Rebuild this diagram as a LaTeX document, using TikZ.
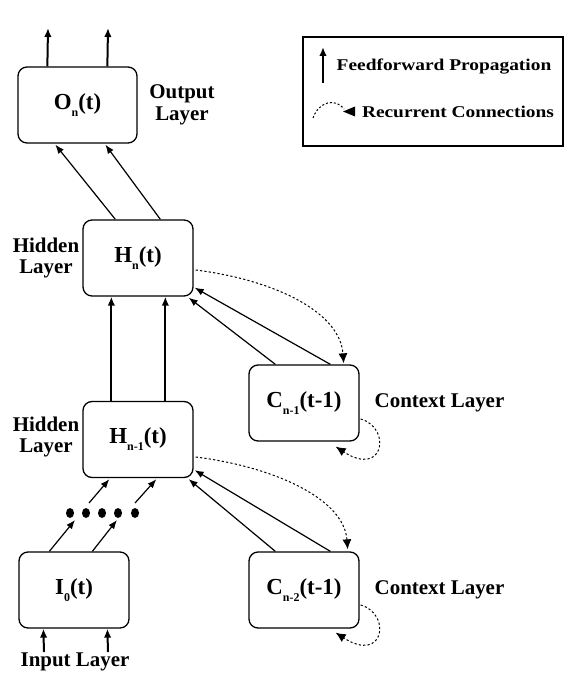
\documentclass[tikz,border=0pt]{standalone}
\usepackage{fontspec}
\setmainfont{Liberation Serif}
\newfontfamily\legfont{Liberation Serif}[FakeStretch=1.18]
\usetikzlibrary{arrows.meta,calc,shapes.geometric}
\newcommand{\sbs}[1]{\raisebox{-7bp}{\fontsize{12}{12}\selectfont #1}}
\begin{document}
\begin{tikzpicture}[x=1bp,y=-1bp,
  box/.style={draw, line width=1.3bp, rounded corners=9bp, inner sep=0pt,
    minimum width=110bp, minimum height=76bp,
    font=\fontsize{23}{23}\selectfont\bfseries},
  lab/.style={align=center, inner sep=0pt, font=\fontsize{21}{21.5}\selectfont\bfseries},
  leg/.style={inner sep=0pt, font=\fontsize{16.5}{16.5}\selectfont\legfont\bfseries},
  thickarr/.style={line width=2bp, -{Latex[length=9bp,width=7.5bp]}},
  thinarr/.style={line width=1.2bp, -{Latex[length=9bp,width=7bp]}},
  rec/.style={line width=1bp, dash pattern=on 2.2bp off 2.2bp, -{Latex[length=10bp,width=9bp]}},
  dot/.style={ellipse, fill=black, minimum width=8bp, minimum height=10bp, inner sep=0pt}
]
\useasboundingbox (0,0) rectangle (565,676);

% boxes
\node[box, minimum width=119bp] (O) at (77.5,105) {O\sbs{n}(t)};
\node[box] (Hn) at (138,258) {H\sbs{n}(t)};
\node[box] (Hm) at (138,439.5) {H\sbs{n-1}(t)};
\node[box] (Cm) at (304,403) {C\sbs{n-1}(t-1)};
\node[box] (Ck) at (304,590) {C\sbs{n-2}(t-1)};
\node[box] (I) at (74,590) {I\sbs{0}(t)};

% labels
\node[lab] (lo) at (182,105) {Output\\Layer};
\node[lab] (lh1) at (46,258) {Hidden\\Layer};
\node[lab] (lh2) at (46,437) {Hidden\\Layer};
\node[lab] (lc1) at (439.5,403) {Context Layer};
\node[lab] (lc2) at (439.5,590) {Context Layer};
\node[lab] (li) at (75,662) {Input Layer};

% dots
\node[dot] (d1) at (70,513) {};
\node[dot] (d2) at (86,513) {};
\node[dot] (d3) at (102,513) {};
\node[dot] (d4) at (118,513) {};
\node[dot] (d5) at (135,513) {};

% output arrows
\coordinate (oa1) at (48,28);
\coordinate (oa2) at (108,28);
\draw[thickarr] ($(O.north west)+(30,0)$) -- (oa1);
\draw[thickarr] ($(O.north west)+(90,0)$) -- (oa2);

% Hn -> O
\draw[thinarr] ($(Hn.north west)+(33,0)$) -- ($(O.south west)+(38,1)$);
\draw[thinarr] ($(Hn.north west)+(78,0)$) -- ($(O.south west)+(88,1)$);

% Hm -> Hn
\draw[thickarr] ($(Hm.north west)+(29,0)$) -- ($(Hn.south west)+(29,0)$);
\draw[thickarr] ($(Hm.north west)+(83,0)$) -- ($(Hn.south west)+(83,0)$);

% Cm -> Hn
\draw[thinarr] ($(Cm.north west)+(27,0)$) -- ($(Hn.south east)+(-5,1)$);
\draw[thinarr] ($(Cm.north west)+(82,0)$) -- ($(Hn.south east)+(1,-9)$);

% Ck -> Hm
\draw[thinarr] ($(Ck.north west)+(27,0)$) -- ($(Hm.south east)+(-5,1)$);
\draw[thinarr] ($(Ck.north west)+(82,0)$) -- ($(Hm.south east)+(1,-8)$);

% recurrent Hn -> Cm
\draw[rec] ($(Hn.east)+(2,12)$) .. controls (275,280) and (340,312) .. ($(Cm.north east)+(-16,-1)$);
\draw[rec] ($(Hm.east)+(2,17.5)$) .. controls (275,467) and (344,499) .. ($(Ck.north east)+(-12,-2)$);

% self loops
\draw[rec] ($(Cm.east)+(1,16)$) .. controls (392,428) and (384,478) .. ($(Cm.south east)+(-24,5)$);
\draw[rec] ($(Ck.east)+(1,15)$) .. controls (392,614) and (384,664) .. ($(Ck.south east)+(-24,4)$);

% I -> dots, dots -> Hm
\draw[thinarr] ($(I.north west)+(31,0)$) -- ($(d1)+(5,7)$);
\draw[thinarr] ($(I.north west)+(74,0)$) -- ($(d4)+(-1,7)$);
\draw[thinarr] ($(d2)+(3,-10)$) -- ($(Hm.south west)+(27,1)$);
\draw[thinarr] ($(d5)+(0,-10)$) -- ($(Hm.south west)+(74,1)$);

% input arrows
\coordinate (ia1) at (44,652);
\coordinate (ia2) at (108,652);
\draw[thickarr] (ia1) -- ($(I.south west)+(25,0)$);
\draw[thickarr] (ia2) -- ($(I.south west)+(89,0)$);

% legend
\node[draw, line width=1.2bp, minimum width=260bp, minimum height=109bp, inner sep=0pt] (L) at (433,91.5) {};
\coordinate (lg1) at (323,83);
\coordinate (lg2) at (323,47);
\draw[thickarr] (lg1) -- (lg2);
\node[leg] (t1) at (444,67) {Feedforward Propagation};
\coordinate (lr1) at (313,118);
\coordinate (lr2) at (344,109);
\draw[line width=1bp, dash pattern=on 2bp off 2bp] (lr1) .. controls (319,101) and (336,98) .. (lr2);
\fill (343,111.5) -- (355,106.5) -- (355,116.5) -- cycle;
\node[leg] (t2) at (458,112) {Recurrent Connections};
\end{tikzpicture}
\end{document}
